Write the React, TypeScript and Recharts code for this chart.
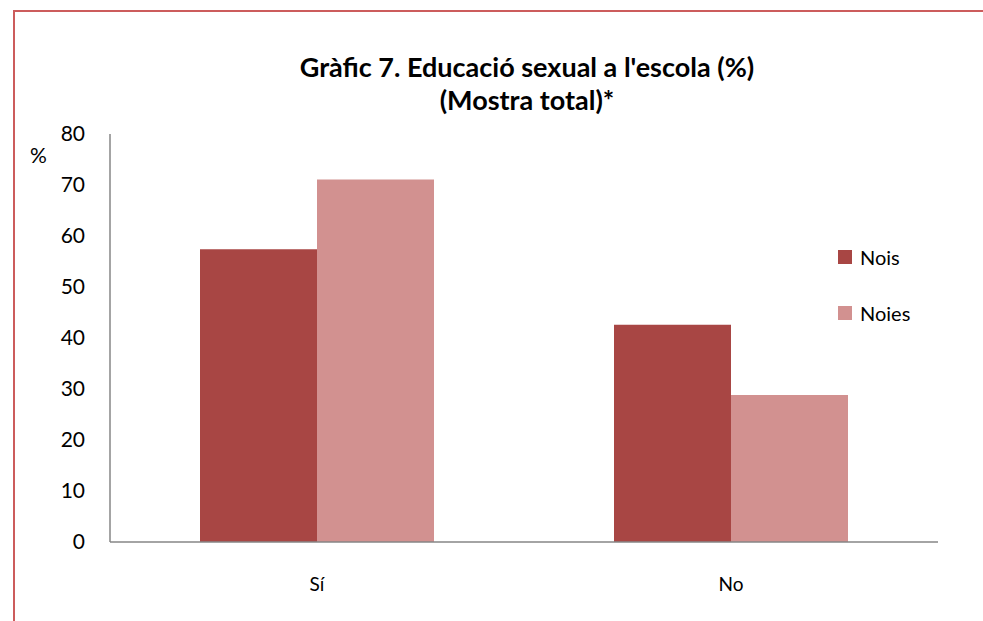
import { BarChart, Bar, XAxis, YAxis } from 'recharts'

const categories = ['Sí', 'No']
const noisValues = [57.4, 42.6]
const noiesValues = [71.1, 28.8]
const yTicks = [0, 10, 20, 30, 40, 50, 60, 70, 80]
const legendItems = ['Nois', 'Noies']

const data = categories.map((c, i) => ({ cat: c, nois: noisValues[i], noies: noiesValues[i] }))

const FONT = 'Lato, "Open Sans", sans-serif'
const NOIS = '#A84644'
const NOIES = '#D29190'
const colors = [NOIS, NOIES]

export default function App() {
  return (
    <div style={{ position: 'absolute', left: 0, top: 0, width: 983, height: 621, overflow: 'hidden', background: '#fff' }}>
      <div
        style={{
          position: 'absolute',
          left: 13,
          top: 10,
          width: 1000,
          height: 700,
          border: '2px solid #CC5C5C',
        }}
      />
      <div style={{ position: 'absolute', left: 0, top: 0 }}>
        <BarChart
          width={983}
          height={621}
          data={data}
          margin={{ top: 134, right: 45, left: 0, bottom: 49 }}
          barCategoryGap={90}
          barGap={0}
        >
          <XAxis
            dataKey="cat"
            axisLine={{ stroke: '#868686', strokeWidth: 1.5 }}
            tickLine={false}
            tickSize={0}
            tickMargin={36}
            height={30}
            tick={{ fontFamily: FONT, fontSize: 19, fill: '#000' }}
          />
          <YAxis
            domain={[0, 80]}
            ticks={yTicks}
            width={110}
            axisLine={{ stroke: '#868686', strokeWidth: 1.5 }}
            tickLine={false}
            tickSize={0}
            tickMargin={25}
            tick={{ fontFamily: FONT, fontSize: 21, fill: '#000' }}
          />
          <Bar dataKey="nois" name="Nois" fill={NOIS} isAnimationActive={false} />
          <Bar dataKey="noies" name="Noies" fill={NOIES} isAnimationActive={false} />
        </BarChart>
      </div>
      <div
        style={{
          position: 'absolute',
          left: 0,
          width: 1054,
          top: 50,
          textAlign: 'center',
          fontFamily: FONT,
          fontWeight: 'bold',
          fontSize: 27,
          lineHeight: '33px',
          color: '#000',
        }}
      >
        Gràfic 7. Educació sexual a l'escola (%)
        <br />
        (Mostra total)*
      </div>
      <div style={{ position: 'absolute', left: 30, top: 142, fontFamily: FONT, fontSize: 21 }}>%</div>
      <div style={{ position: 'absolute', left: 838, top: 243, fontFamily: FONT, fontSize: 20, color: '#000' }}>
        {legendItems.map((label, i) => (
          <div key={label} style={{ display: 'flex', alignItems: 'center', height: 28, marginBottom: i === 0 ? 28 : 0 }}>
            <span style={{ width: 14, height: 14, background: colors[i], display: 'inline-block', marginRight: 8 }} />
            <span>{label}</span>
          </div>
        ))}
      </div>
    </div>
  )
}
